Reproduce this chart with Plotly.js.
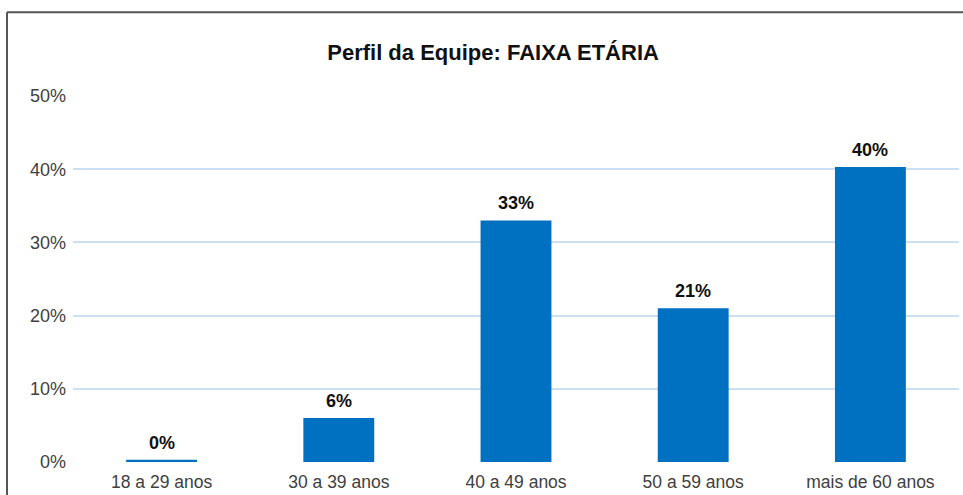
<!DOCTYPE html>
<html>
<head>
<meta charset="utf-8">
<script src="https://cdn.plot.ly/plotly-3.0.1.min.js"></script>
<style>
  html, body { margin: 0; padding: 0; background: #ffffff; }
  #chart { width: 963px; height: 495px; }
</style>
</head>
<body>
<div id="chart"></div>
<script>
const categories = ["18 a 29 anos", "30 a 39 anos", "40 a 49 anos", "50 a 59 anos", "mais de 60 anos"];
const percentValues = [0.3, 6, 33, 21, 40.3];
const yTickValues = [0, 10, 20, 30, 40, 50];
const yTickLabels = ["0%", "10%", "20%", "30%", "40%", "50%"];
const chartTitle = "Perfil da Equipe: FAIXA ETÁRIA";

const FONT = "Liberation Sans, Arial, sans-serif";

const trace = {
  type: "bar",
  x: categories,
  y: percentValues,
  marker: { color: "#0070c0" },
  width: 0.4,
  hoverinfo: "none"
};

const labelAnnotations = categories.map((c, i) => ({
  x: c,
  y: percentValues[i],
  xref: "x",
  yref: "y",
  text: "<b>" + Math.round(percentValues[i]) + "%</b>",
  showarrow: false,
  yanchor: "bottom",
  yshift: 5,
  font: { family: FONT, size: 18, color: "#111111" }
}));

const layout = {
  width: 963,
  height: 495,
  margin: { l: 73, r: 4, t: 96, b: 33 },
  paper_bgcolor: "#ffffff",
  plot_bgcolor: "#ffffff",
  showlegend: false,
  title: {
    text: "<b>" + chartTitle + "</b>",
    font: { family: FONT, size: 22, color: "#111111" },
    xref: "container", x: 0.512, xanchor: "center",
    yref: "container", y: 0.895, yanchor: "middle"
  },
  xaxis: {
    type: "category",
    showgrid: false,
    zeroline: false,
    showline: false,
    ticks: "",
    ticklabelstandoff: 7,
    tickfont: { family: FONT, size: 17.5, color: "#404040" },
    fixedrange: true
  },
  yaxis: {
    range: [0, 50],
    tickvals: yTickValues,
    ticktext: yTickLabels,
    showgrid: true,
    gridcolor: "#cddff2",
    gridwidth: 2,
    zeroline: false,
    showline: false,
    ticks: "",
    ticklabelstandoff: 6,
    tickfont: { family: FONT, size: 18, color: "#404040" },
    fixedrange: true
  },
  annotations: labelAnnotations,
  shapes: [
    { type: "line", xref: "paper", yref: "paper", x0: -0.0745, x1: 1.1, y0: 1.229, y1: 1.229, line: { color: "#555555", width: 2 } },
    { type: "line", xref: "paper", yref: "paper", x0: -0.0745, x1: -0.0745, y0: 1.229, y1: -0.2, line: { color: "#555555", width: 2 } }
  ]
};

Plotly.newPlot("chart", [trace], layout, { displayModeBar: false, staticPlot: true });
</script>
</body>
</html>
